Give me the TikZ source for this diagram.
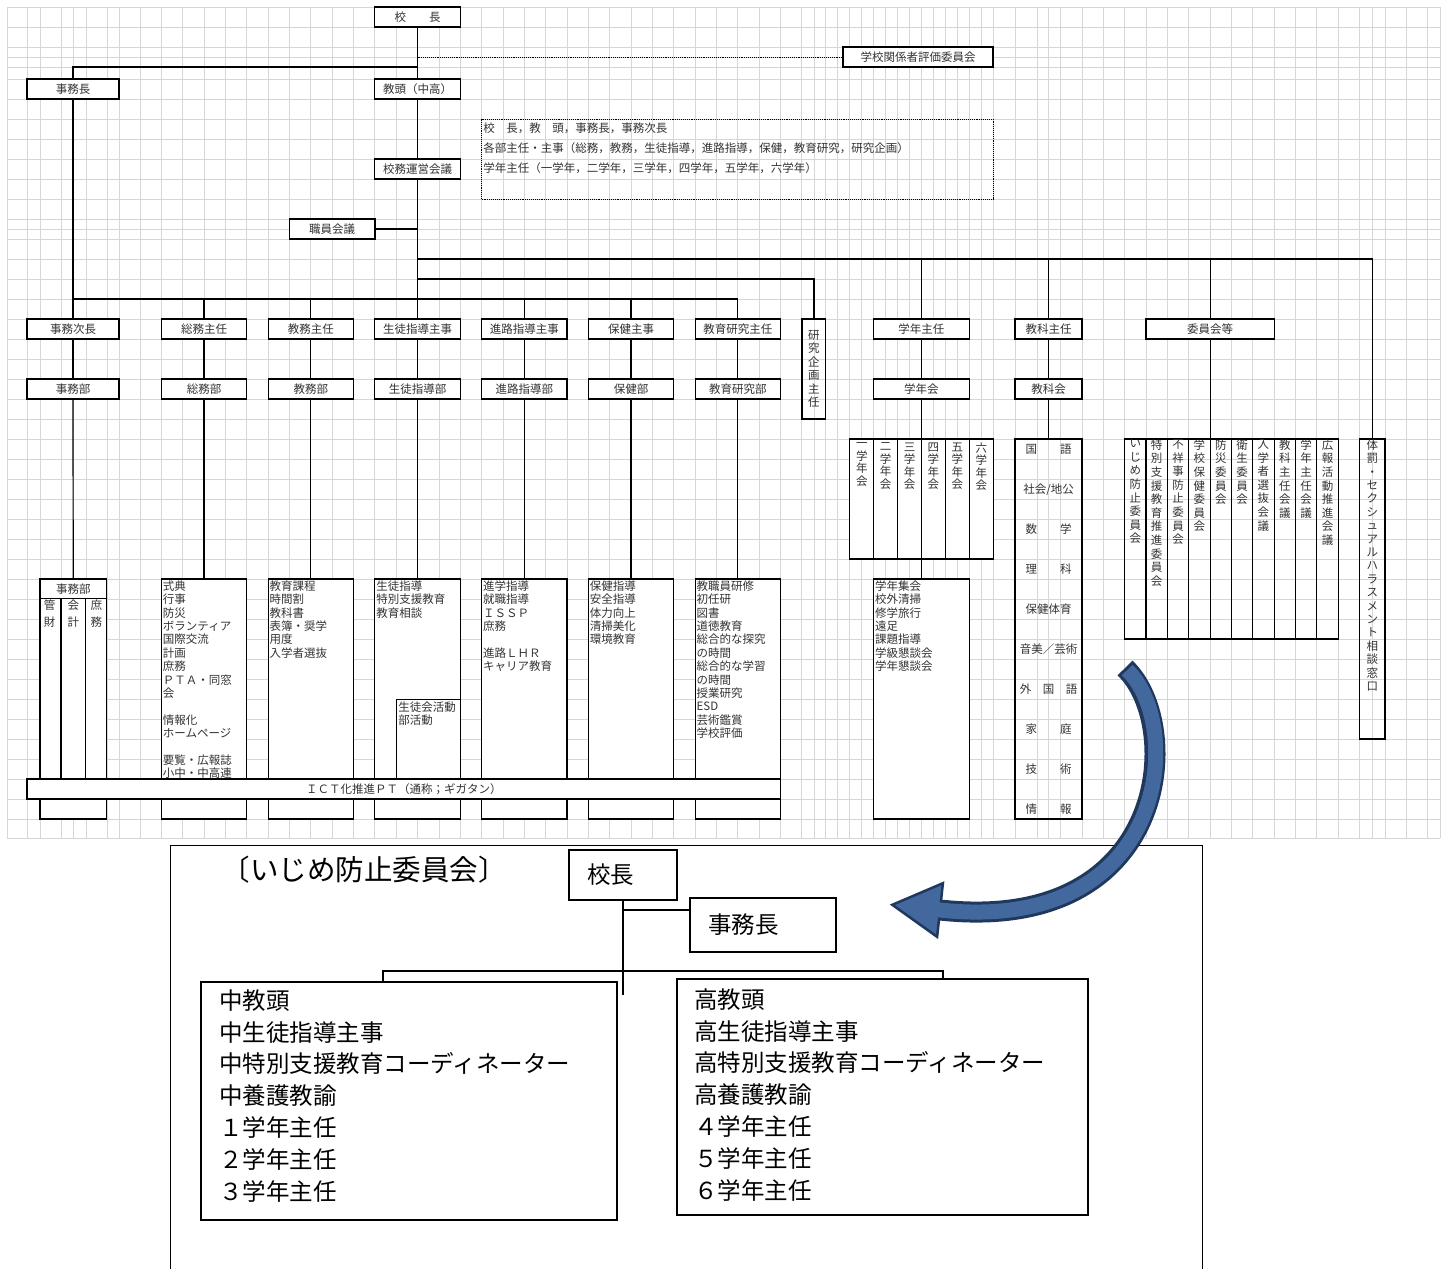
\documentclass[tikz,border=0pt]{standalone}
\usepackage{fontspec}
\setmainfont{Noto Sans CJK JP}
\newfontfamily\titlefont[RawFeature=+halt]{Noto Sans CJK JP}
\usetikzlibrary{calc}
\definecolor{arrFill}{RGB}{66,104,158}
\definecolor{arrEdge}{RGB}{31,56,92}
\newcommand\chartfont{\fontsize{11.5}{13.4}\selectfont}
\newcommand\bigfont{\fontsize{23.5}{31.85}\selectfont}
% vertical text: one character per line
\makeatletter
\newcommand\tate[1]{\expandafter\tate@step#1\relax}
\def\tate@step#1#2{#1\ifx\relax#2\expandafter\@gobble\else\expandafter\@firstofone\fi{\\\tate@step#2}}
\makeatother

\begin{document}
\begin{tikzpicture}[
    x=1pt, y=-1pt,
    gridln/.style={draw=black!16, line width=0.8pt},
    hd/.style={draw, line width=1.2pt, fill=white, minimum height=20pt, inner sep=0pt, align=center, text=black!80, font=\chartfont},
    colbox/.style={draw, line width=1.2pt, inner sep=0pt},
    link/.style={line width=1.2pt},
    dotlink/.style={densely dotted, line width=0.9pt},
    lst/.style={anchor=north west, align=left, inner sep=0pt, text=black!80, font=\chartfont},
    vtxt/.style={anchor=north, align=center, inner sep=0pt, text=black!80},
    bigbox/.style={draw, line width=1.6pt, fill=white, inner ysep=0pt, font=\bigfont}
]
    \useasboundingbox (0,0) rectangle (1448,1269);
    \fill[white] (0,0) rectangle (1448,1269);

    % --- sheet grid ---
    \foreach \gx in {7,27,40,61,73,86,107,119,1015,1037,1048,1060,1082,1372,1385,1406,1427,1440}
        \draw[gridln] (\gx,7) -- (\gx,838);
    \foreach \k in {0,...,31} \draw[gridln] (140+21.35*\k,7) -- (140+21.35*\k,838);
    \foreach \k in {1,...,16} \draw[gridln] (802+11.94*\k,7) -- (802+11.94*\k,838);
    \foreach \k in {1,...,13} \draw[gridln] (1082+21.35*\k,7) -- (1082+21.35*\k,838);
    \foreach \gy in {7,27,47,57,67,79,99,119,139,159,179,199,219,229,239,838}
        \draw[gridln] (7,\gy) -- (1440,\gy);
    \foreach \k in {0,...,28} \draw[gridln] (7,259+20*\k) -- (1440,259+20*\k);

    % --- top of the chart ---
    \node[hd, minimum width=85.4] (kocho) at (417.5,17) {校　　長};
    \node[hd, minimum width=150] (hyoka) at (918,57) {学校関係者評価委員会};
    \node[hd, minimum width=92] (jimucho) at (73,89) {事務長};
    \node[hd, minimum width=85.4] (kyoto) at (417.5,89) {教頭（中高）};
    \node[draw, densely dotted, line width=0.9pt, minimum width=511.4, minimum height=80, inner sep=0pt] (unimem) at (737.3,159) {};
    \node[lst, font=\fontsize{11.5}{20}\selectfont] (tunimem) at ([xshift=2pt,yshift=-4pt]unimem.north west)
        {校　長，教　頭，事務長，事務次長\\各部主任・主事（総務，教務，生徒指導，進路指導，保健，教育研究，研究企画）\\学年主任（一学年，二学年，三学年，四学年，五学年，六学年）};
    \node[hd, minimum width=85.4] (unei) at (417.5,169) {校務運営会議};
    \node[hd, minimum width=85.4] (shokuin) at (332.2,229) {職員会議};

    \coordinate (tHyoka) at (417.5,57);
    \coordinate (tJimu) at (417.5,67);
    \coordinate (busA) at (417.5,259);
    \coordinate (busB) at (417.5,279);
    \coordinate (busC) at (417.5,299);

    % --- heads ---
    \node[hd, minimum width=92] (hjimu) at (73,329) {事務次長};
    \node[hd, minimum width=85.4] (hsomu) at (204.05,329) {総務主任};
    \node[hd, minimum width=85.4] (hkyomu) at (310.8,329) {教務主任};
    \node[hd, minimum width=85.4] (hseito) at (417.5,329) {生徒指導主事};
    \node[hd, minimum width=85.4] (hshinro) at (524.3,329) {進路指導主事};
    \node[hd, minimum width=85.4] (hhoken) at (631.05,329) {保健主事};
    \node[hd, minimum width=85.4] (hkenkyu) at (737.8,329) {教育研究主任};
    \node[hd, fill=none, minimum width=23.9, minimum height=100] (hkikaku) at (813.9,369) {\tate{研究企画主任}};
    \node[hd, minimum width=95.6] (hgakunen) at (921.4,329) {学年主任};
    \node[hd, minimum width=67] (hkyoka) at (1048.5,329) {教科主任};
    \node[hd, minimum width=128.1] (hiin) at (1210.1,329) {委員会等};

    % --- departments ---
    \node[hd, minimum width=92] (djimu) at (73,389) {事務部};
    \node[hd, minimum width=85.4] (dsomu) at (204.05,389) {総務部};
    \node[hd, minimum width=85.4] (dkyomu) at (310.8,389) {教務部};
    \node[hd, minimum width=85.4] (dseito) at (417.5,389) {生徒指導部};
    \node[hd, minimum width=85.4] (dshinro) at (524.3,389) {進路指導部};
    \node[hd, minimum width=85.4] (dhoken) at (631.05,389) {保健部};
    \node[hd, minimum width=85.4] (dkenkyu) at (737.8,389) {教育研究部};
    \node[hd, minimum width=95.6] (dgakunen) at (921.4,389) {学年会};
    \node[hd, minimum width=67] (dkyoka) at (1048.5,389) {教科会};

    % --- duty boxes ---
    \node[colbox, fill=white, minimum width=66.7, minimum height=240] (bjimu) at (73.35,699) {};
    \node[colbox, fill=white, minimum width=85.4, minimum height=240] (bsomu) at (204.05,699) {};
    \node[colbox, fill=white, minimum width=85.4, minimum height=240] (bkyomu) at (310.8,699) {};
    \node[colbox, fill=white, minimum width=85.4, minimum height=240] (bseito) at (417.5,699) {};
    \node[colbox, fill=white, minimum width=85.4, minimum height=240] (bshinro) at (524.3,699) {};
    \node[colbox, fill=white, minimum width=85.4, minimum height=240] (bhoken) at (631.05,699) {};
    \node[colbox, fill=white, minimum width=85.4, minimum height=240] (bkenkyu) at (737.8,699) {};
    \node[colbox, fill=white, minimum width=95.6, minimum height=240] (bgakunen) at (921.4,699) {};

    \draw[link] ([yshift=-20pt]bjimu.north west) -- ([yshift=-20pt]bjimu.north east);
    \draw[link] (61,599) -- (61,779);
    \draw[link] (85.7,599) -- (85.7,779);
    \node[inner sep=0pt, text=black!80, font=\chartfont] (tjimu) at (73.35,589) {事務部};
    \node[vtxt, font=\fontsize{11.5}{16.7}\selectfont] (tkanzai) at (49.5,600) {\tate{管財}};
    \node[vtxt, font=\fontsize{11.5}{16.7}\selectfont] (tkaikei) at (73.3,600) {\tate{会計}};
    \node[vtxt, font=\fontsize{11.5}{16.7}\selectfont] (tshomu) at (96.3,600) {\tate{庶務}};

    \node[lst] (tsomu) at ([xshift=2pt,yshift=-2pt]bsomu.north west)
        {式典\\行事\\防災\\ボランティア\\国際交流\\計画\\庶務\\ＰＴＡ・同窓\\会\\[13.4pt]情報化\\ホームページ\\[13.4pt]要覧・広報誌\\小中・中高連};
    \node[lst] (tkyomu) at ([xshift=2pt,yshift=-2pt]bkyomu.north west)
        {教育課程\\時間割\\教科書\\表簿・奨学\\用度\\入学者選抜};
    \node[lst] (tseito) at ([xshift=2pt,yshift=-2pt]bseito.north west)
        {生徒指導\\特別支援教育\\教育相談};
    \node[colbox, anchor=north west, minimum width=64.05, minimum height=80] (bseitoIn) at (396.2,699) {};
    \node[lst] (tseitoIn) at ([xshift=2pt,yshift=-2.5pt]bseitoIn.north west) {生徒会活動\\部活動};
    \node[lst] (tshinro) at ([xshift=2pt,yshift=-2pt]bshinro.north west)
        {進学指導\\就職指導\\ＩＳＳＰ\\庶務\\[13.4pt]進路ＬＨＲ\\キャリア教育};
    \node[lst] (thoken) at ([xshift=2pt,yshift=-2pt]bhoken.north west)
        {保健指導\\安全指導\\体力向上\\清掃美化\\環境教育};
    \node[lst] (tkenkyu) at ([xshift=2pt,yshift=-2pt]bkenkyu.north west)
        {教職員研修\\初任研\\図書\\道徳教育\\総合的な探究\\の時間\\総合的な学習\\の時間\\授業研究\\ESD\\芸術鑑賞\\学校評価};
    \node[lst] (tgakunen) at ([xshift=2pt,yshift=-2pt]bgakunen.north west)
        {学年集会\\校外清掃\\修学旅行\\遠足\\課題指導\\学級懇談会\\学年懇談会};

    \node[hd, minimum width=753.5] (ict) at (403.75,789) {ＩＣＴ化推進ＰＴ（通称；ギガタン）};

    % --- grade meetings ---
    \foreach \t [count=\i] in {一学年会,二学年会,三学年会,四学年会,五学年会,六学年会} {
        \node[colbox, fill=white, minimum width=23.9, minimum height=120] (g\i) at (837.85+23.9*\i,499) {};
        \node[vtxt, font=\fontsize{11.5}{12.5}\selectfont] (tg\i) at ([yshift=-4pt]g\i.north) {\tate{\t}};
    }

    % --- subject meeting ---
    \node[colbox, minimum width=67, minimum height=380] (kyokaCol) at (1048.5,629) {};
    \node[inner sep=0pt, text=black!80, font=\chartfont] (s0) at (1048.5,449.5) {国　　語};
    \node[inner sep=0pt, text=black!80, font=\chartfont] (s1) at (1048.5,489.5) {社会/地公};
    \node[inner sep=0pt, text=black!80, font=\chartfont] (s2) at (1048.5,529.5) {数　　学};
    \node[inner sep=0pt, text=black!80, font=\chartfont] (s3) at (1048.5,569.5) {理　　科};
    \node[inner sep=0pt, text=black!80, font=\chartfont] (s4) at (1048.5,609.5) {保健体育};
    \node[inner sep=0pt, text=black!80, font=\chartfont] (s5) at (1048.5,649.5) {音美／芸術};
    \node[inner sep=0pt, text=black!80, font=\chartfont] (s6) at (1048.5,689.5) {外　国　語};
    \node[inner sep=0pt, text=black!80, font=\chartfont] (s7) at (1048.5,729.5) {家　　庭};
    \node[inner sep=0pt, text=black!80, font=\chartfont] (s8) at (1048.5,769.5) {技　　術};
    \node[inner sep=0pt, text=black!80, font=\chartfont] (s9) at (1048.5,809.5) {情　　報};

    % --- committees ---
    \foreach \t [count=\i] in {いじめ防止委員会,特別支援教育推進委員会,不祥事防止委員会,学校保健委員会,防災委員会,衛生委員会,入学者選抜会議,教科主任会議,学年主任会議,広報活動推進会議} {
        \node[colbox, minimum width=21.35, minimum height=200] (i\i) at (1114.025+21.35*\i,539) {};
        \node[vtxt, font=\fontsize{11.5}{13.6}\selectfont] (ti\i) at ([yshift=-1pt]i\i.north) {\tate{\t}};
    }
    \node[colbox, minimum width=25.45, minimum height=300] (taibatsu) at (1372.3,589) {};
    \node[vtxt, font=\fontsize{11.5}{13.4}\selectfont] (ttaibatsu) at ([yshift=-1pt]taibatsu.north)
        {\tate{体罰・セクシュアルハラスメント相談窓口}};

    % --- connectors ---
    \draw[link] (kocho) -- (kyoto);
    \draw[link] (kyoto) -- (unei);
    \draw[link] (unei) -- (hseito);
    \draw[dotlink] (tHyoka) -- (hyoka.west);
    \draw[link] (tJimu) -| (jimucho.north);
    \draw[link] (shokuin.east) -- (shokuin.east -| unei.south);
    \draw[link] (jimucho) -- (hjimu);
    \draw[link] (hjimu.north |- busC) -- (hkenkyu.north |- busC);
    \foreach \n in {hsomu,hkyomu,hshinro,hhoken,hkenkyu}
        \draw[link] (\n.north |- busC) -- (\n.north);
    \draw[link] (busB) -| (hkikaku.north);
    \draw[link] (busA) -| (taibatsu.north);
    \foreach \n in {hgakunen,hkyoka,hiin}
        \draw[link] (\n.north |- busA) -- (\n.north);
    \foreach \n in {jimu,somu,kyomu,seito,shinro,hoken,kenkyu,gakunen,kyoka}
        \draw[link] (h\n) -- (d\n);
    \foreach \n in {jimu,somu,kyomu,seito,shinro,hoken,kenkyu,gakunen}
        \draw[link] (d\n) -- (b\n);
    \draw[link] (dkyoka) -- (kyokaCol);
    \draw[link] (hiin) -- (hiin.south |- i5.north);

    % --- bullying prevention committee ---
    \draw[line width=1pt] (170,1269) -- (170,845) -- (1202,845) -- (1202,1269);
    \node[anchor=west, inner sep=0pt, font=\titlefont\fontsize{28.5}{30}\selectfont] (ijTitle) at (236,870) {〔いじめ防止委員会〕};
    \node[bigbox, minimum width=108, minimum height=50, text width=72, inner xsep=18, align=left] (ijKocho) at (623,875) {校長};
    \node[bigbox, minimum width=146, minimum height=54, text width=110, inner xsep=18, align=left] (ijJimu) at (763,925) {事務長};
    \node[bigbox, minimum width=416, minimum height=238] (ijNaka) at (409,1101) {};
    \node[bigbox, minimum width=411, minimum height=236] (ijKo) at (882.5,1097) {};
    \node[anchor=north west, align=left, inner sep=0pt, font=\bigfont] (tNaka) at ([xshift=19pt,yshift=-8pt]ijNaka.north west)
        {中教頭\\中生徒指導主事\\中特別支援教育コーディネーター\\中養護教諭\\１学年主任\\２学年主任\\３学年主任};
    \node[anchor=north west, align=left, inner sep=0pt, font=\bigfont] (tKo) at ([xshift=18pt,yshift=-10pt]ijKo.north west)
        {高教頭\\高生徒指導主事\\高特別支援教育コーディネーター\\高養護教諭\\４学年主任\\５学年主任\\６学年主任};

    \coordinate (ijT) at (623,910);
    \coordinate (ijEnd) at (623,995);
    \coordinate (barL) at (383,971);
    \coordinate (barR) at (943,971);
    \draw[line width=1.6pt] (ijKocho.south) -- (ijEnd);
    \draw[line width=1.6pt] (ijT) -- (ijT -| ijJimu.west);
    \draw[line width=1.6pt] (ijNaka.north -| barL) -- (barL) -- (barR) -- (ijKo.north -| barR);

    % --- curved arrow ---
    \coordinate (arS) at (1125,668);
    \coordinate (arE) at (940,910);
    \coordinate (arE2) at (933,909.2);
    \draw[line width=21pt, draw=arrEdge] (arS) .. controls (1185,725) and (1170,935) .. (arE);
    \filldraw[fill=arrFill, draw=arrEdge, line width=2.5pt] (892.3,904.8) -- (942.9,883.2) -- (937.1,936.8) -- cycle;
    \draw[line width=15pt, draw=arrFill, shorten <=3pt] (arS) .. controls (1185,725) and (1170,935) .. (arE) -- (arE2);
\end{tikzpicture}
\end{document}
